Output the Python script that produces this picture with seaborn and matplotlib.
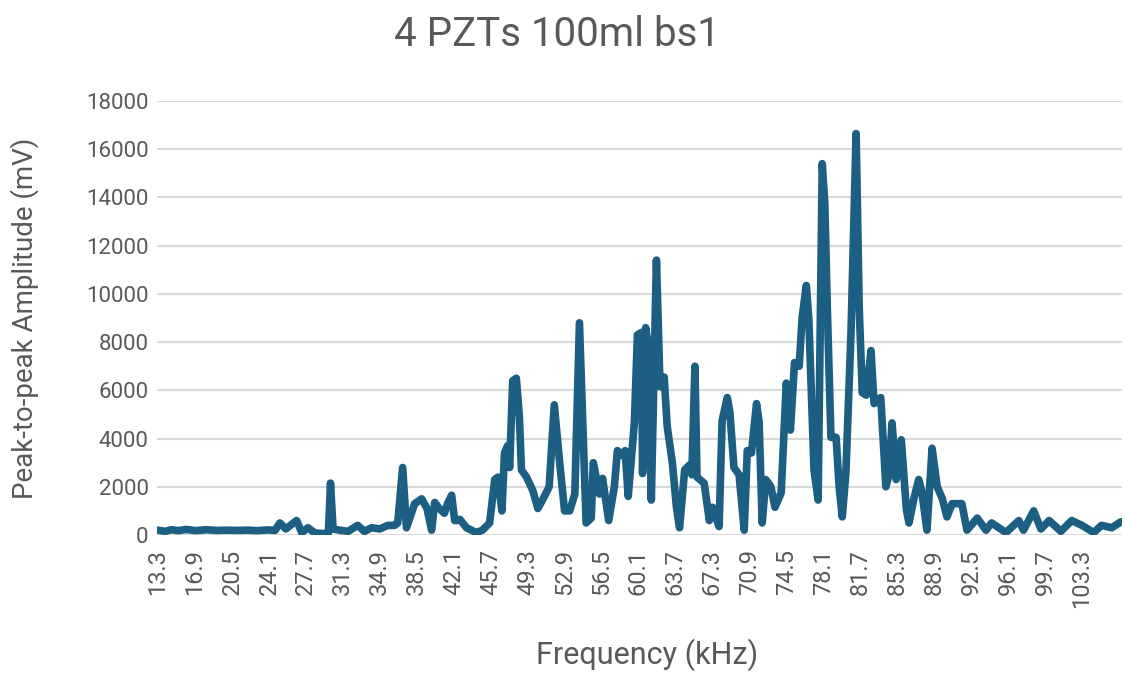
import matplotlib
matplotlib.use("Agg")
import matplotlib.pyplot as plt
import seaborn as sns
import pandas as pd

# Frequency (kHz) and peak-to-peak amplitude (mV)
freq_khz = [13.3, 14.0, 14.6, 15.3, 16.0, 17.0, 18.0, 19.0, 20.0, 21.0, 22.0, 23.0, 24.0, 24.7,
            25.17, 25.75, 26.8, 27.3, 27.9, 28.6, 29.55, 29.9, 30.1, 30.35, 31.0, 31.8, 32.75,
            33.4, 34.1, 34.9, 35.7, 36.35, 36.65, 37.13, 37.5, 38.3, 38.98, 39.5, 39.95, 40.25,
            40.7, 41.2, 41.5, 41.9, 42.2, 42.4, 42.7, 43.35, 44.3, 44.9, 45.6, 46.1, 46.4, 46.8,
            47.05, 47.35, 47.55, 47.85, 48.2, 48.5, 48.7, 49.2, 49.8, 50.3, 50.75, 51.4, 51.9,
            52.4, 52.9, 53.4, 53.9, 54.35, 55.0, 55.5, 55.7, 56.3, 56.6, 57.2, 57.75, 58.05,
            58.5, 58.8, 59.1, 59.7, 60.0, 60.4, 60.5, 60.8, 61.1, 61.35, 61.85, 62.2, 62.6,
            62.9, 63.4, 63.8, 64.1, 64.6, 65.05, 65.3, 65.6, 65.8, 66.5, 67.0, 67.3, 67.95,
            68.25, 68.75, 69.0, 69.4, 69.9, 70.4, 70.7, 71.1, 71.6, 71.85, 72.15, 72.5, 73.0,
            73.4, 74.0, 74.5, 74.9, 75.3, 75.75, 76.05, 76.45, 76.7, 77.2, 77.6, 78.0, 78.25,
            78.5, 78.85, 79.35, 79.65, 79.95, 80.3, 80.8, 81.3, 81.6, 81.9, 82.3, 82.75, 83.05,
            83.7, 84.2, 84.5, 84.8, 85.2, 85.7, 86.2, 86.45, 86.95, 87.4, 87.7, 88.2, 88.7,
            89.2, 89.7, 90.15, 90.65, 91.6, 92.1, 93.1, 93.95, 94.5, 95.9, 97.15, 97.6, 98.6,
            99.3, 100.1, 101.25, 102.3, 103.3, 104.45, 105.2, 106.2, 107.1]

amplitude_mv = [200, 150, 220, 180, 230, 180, 220, 190, 200, 190, 200, 180, 210, 190,
                500, 250, 600, 100, 300, 80, 60, 100, 2150, 250, 200, 150, 400,
                150, 300, 250, 400, 400, 500, 2800, 300, 1300, 1500, 1100, 200, 1350,
                1100, 900, 1300, 1650, 600, 600, 650, 300, 100, 200, 500, 2300, 2400, 1000,
                3400, 3700, 2800, 6400, 6500, 4900, 2700, 2400, 1850, 1100, 1450, 2000, 5400,
                3100, 1000, 1000, 1700, 8800, 500, 700, 3000, 1700, 2350, 600, 2000, 3500,
                3300, 3500, 1600, 4650, 8300, 8400, 2550, 8600, 7700, 1450, 11400, 6150, 6550,
                4500, 3000, 1150, 300, 2700, 2900, 2500, 7000, 2400, 2150, 600, 1150, 350,
                4750, 5700, 5100, 2800, 2500, 200, 3500, 3400, 5450, 4700, 500, 2300, 2000,
                1150, 1750, 6300, 4350, 7150, 7000, 9050, 10350, 8900, 2700, 1450, 15400, 13750,
                9300, 4050, 4050, 2000, 750, 2550, 8350, 16650, 9450, 5900, 5800, 7650, 5450,
                5700, 2000, 2500, 4650, 2300, 3950, 1050, 500, 1550, 2300, 1800, 200, 3600,
                2000, 1500, 750, 1300, 1300, 200, 700, 200, 500, 100, 600, 200, 1000,
                250, 600, 150, 600, 400, 100, 400, 300, 550]

tick_labels = ["13.3", "16.9", "20.5", "24.1", "27.7", "31.3", "34.9", "38.5", "42.1",
               "45.7", "49.3", "52.9", "56.5", "60.1", "63.7", "67.3", "70.9", "74.5",
               "78.1", "81.7", "85.3", "88.9", "92.5", "96.1", "99.7", "103.3"]
y_ticks = [0, 2000, 4000, 6000, 8000, 10000, 12000, 14000, 16000, 18000]

sns.set_theme(style="white")
plt.rcParams['font.family'] = ['Roboto', 'DejaVu Sans']

df = pd.DataFrame({"Frequency": freq_khz, "Amplitude": amplitude_mv})

fig = plt.figure(figsize=(11.25, 6.73), dpi=100)
ax = fig.add_axes([157 / 1125, 1 - 535 / 673, (1122 - 157) / 1125, (535 - 101) / 673])

text_color = "#595959"
sns.lineplot(data=df, x="Frequency", y="Amplitude", ax=ax, color="#1c5f83",
             linewidth=5.5, estimator=None, sort=False, solid_joinstyle="round",
             solid_capstyle="round")

ax.set_xlim(13.2, 107.2)
ax.set_ylim(0, 18000)
ax.set_yticks(y_ticks)
ax.set_yticklabels([str(v) for v in y_ticks], fontsize=16, color=text_color)
ax.set_xticks([float(t) for t in tick_labels])
ax.set_xticklabels(tick_labels, rotation=90, fontsize=17, color=text_color)
ax.tick_params(axis="y", length=0, pad=6)
ax.tick_params(axis="x", length=0, pad=10)

ax.yaxis.grid(True, color="#d9d9d9", linewidth=1.5)
ax.set_axisbelow(True)
for side in ["top", "right", "left", "bottom"]:
    ax.spines[side].set_visible(False)

ax.set_xlabel("Frequency (kHz)", fontsize=22, color=text_color, va="center")
ax.xaxis.set_label_coords(0.508, -0.2765)
ax.set_ylabel("Peak-to-peak Amplitude (mV)", fontsize=20, color=text_color, va="center")
ax.yaxis.set_label_coords(-0.137, 0.5)
fig.text(557 / 1125, 1 - 35 / 673, "4 PZTs 100ml bs1", ha="center", va="center",
         fontsize=29, color=text_color)

fig.savefig("out.png", dpi=100, facecolor="white")
